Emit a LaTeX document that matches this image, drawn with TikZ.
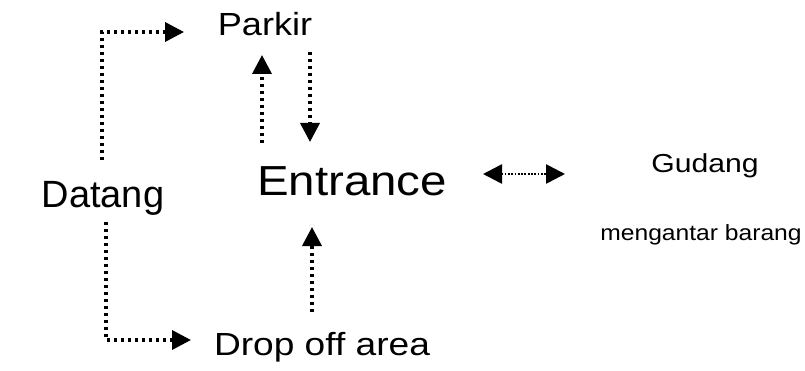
\documentclass[tikz,border=0pt]{standalone}
\usepackage{fontspec}
\setmainfont{Liberation Sans}
\usetikzlibrary{arrows.meta}
\tikzset{
  lbl/.style={anchor=base, inner sep=0pt, text=black},
  dotline/.style={line width=3.6pt, dash pattern=on 3.4pt off 3.6pt, -{Triangle[length=19pt,width=19pt]}},
  dotfine/.style={line width=2.6pt, dash pattern=on 1.8pt off 1.5pt, {Triangle[length=19pt,width=19pt]}-{Triangle[length=19pt,width=19pt]}}
}
\newcommand{\fs}[1]{\fontsize{#1}{#1}\selectfont}
\begin{document}
\begin{tikzpicture}[x=1pt,y=1pt]
\useasboundingbox[fill=white] (0,0) rectangle (805,370);
% labels
\node[lbl, font=\fs{32}] (parkir) at (265,334) {\scalebox{1.13}[1]{Parkir}};
\node[lbl, font=\fs{42}] (entrance) at (352,175) {\scalebox{1.13}[1]{Entrance}};
\node[lbl, font=\fs{38}] (datang) at (103,163) {\scalebox{1.0}[1]{Datang}};
\node[lbl, font=\fs{32}] (drop) at (322,15) {\scalebox{1.16}[1]{Drop off area}};
\node[lbl, font=\fs{26}] (gudang) at (705,198) {\scalebox{1.16}[1]{Gudang}};
\node[lbl, font=\fs{22}] (antar) at (701,130) {\scalebox{1.12}[1]{mengantar barang}};
% coordinates
\coordinate (d1) at (102,210);
\coordinate (d2) at (102,338);
\coordinate (p1) at (184,338);
\coordinate (d3) at (106,148);
\coordinate (d4) at (106,30);
\coordinate (q1) at (191,30);
\coordinate (pu0) at (262,227);
\coordinate (pu1) at (262,315);
\coordinate (pd0) at (310,318);
\coordinate (pd1) at (310,228);
\coordinate (du0) at (312,58);
\coordinate (du1) at (312,143);
\coordinate (g0) at (483,196);
\coordinate (g1) at (565,196);
% connectors
\draw[dotline] (d1) -- (d2) -- (p1);
\draw[dotline] (d3) -- (d4) -- (q1);
\draw[dotline] (pu0) -- (pu1);
\draw[dotline] (pd0) -- (pd1);
\draw[dotline] (du0) -- (du1);
\draw[dotfine] (g0) -- (g1);
\end{tikzpicture}
\end{document}
